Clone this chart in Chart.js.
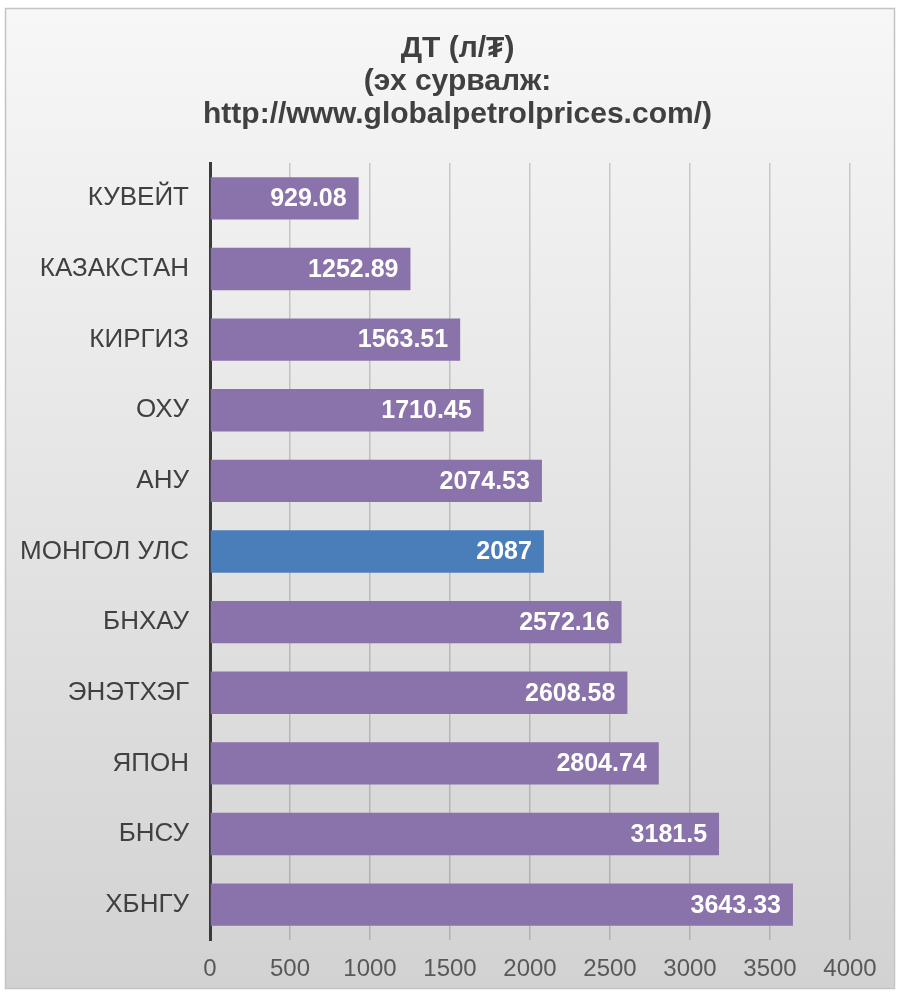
<!DOCTYPE html>
<html>
<head>
<meta charset="utf-8">
<script src="https://cdn.jsdelivr.net/npm/chart.js@4"></script>
<style>
  body { margin: 0; background: #fff; }
  #wrap { width: 899px; height: 992px; position: relative; }
</style>
</head>
<body>
<div id="wrap"><canvas id="myChart"></canvas></div>
<script>
const countries = ["КУВЕЙТ", "КАЗАКСТАН", "КИРГИЗ", "ОХУ", "АНУ", "МОНГОЛ УЛС",
    "БНХАУ", "ЭНЭТХЭГ", "ЯПОН", "БНСУ", "ХБНГУ"];
const prices = [929.08, 1252.89, 1563.51, 1710.45, 2074.53, 2087,
    2572.16, 2608.58, 2804.74, 3181.5, 3643.33];
const titleLines = ["ДТ (л/₮)", "(эх сурвалж:", "http://www.globalpetrolprices.com/)"];
const highlight = "МОНГОЛ УЛС";

const purple = '#8a72aa';
const blue = '#4a7ebb';

// gradient panel with thin border, like the office chart area
const panelBg = {
    id: 'panelBg',
    beforeDraw(chart) {
        const ctx = chart.ctx;
        const w = chart.width, h = chart.height;
        ctx.save();
        ctx.fillStyle = '#ffffff';
        ctx.fillRect(0, 0, w, h);
        const g = ctx.createLinearGradient(0, 8, 0, h - 3);
        g.addColorStop(0, '#f7f7f7');
        g.addColorStop(1, '#d2d2d2');
        ctx.fillStyle = g;
        ctx.fillRect(5, 8, w - 9, h - 11);
        ctx.strokeStyle = '#c4c4c4';
        ctx.lineWidth = 1.5;
        ctx.strokeRect(5.5, 8.5, w - 10, h - 12);
        ctx.restore();
    }
};

// white value labels inside the bar end
const valueLabels = {
    id: 'valueLabels',
    afterDatasetsDraw(chart) {
        const ctx = chart.ctx;
        const meta = chart.getDatasetMeta(0);
        ctx.save();
        ctx.font = 'bold 25px "Liberation Sans", Arial, sans-serif';
        ctx.fillStyle = '#ffffff';
        ctx.textAlign = 'right';
        ctx.textBaseline = 'middle';
        meta.data.forEach(function(bar, i) {
            ctx.fillText(String(prices[i]), bar.x - 12, bar.y + 1);
        });
        ctx.restore();
    }
};

const data = {
    labels: countries,
    datasets: [{
        data: prices,
        backgroundColor: countries.map(c => c === highlight ? blue : purple),
        barPercentage: 0.6,
        categoryPercentage: 1.0
    }]
};

const config = {
    type: 'bar',
    data: data,
    options: {
        indexAxis: 'y',
        responsive: true,
        maintainAspectRatio: false,
        animation: false,
        layout: {
            padding: { left: 16, right: 0, top: 0, bottom: 0 }
        },
        plugins: {
            legend: { display: false },
            tooltip: { enabled: false },
            title: {
                display: true,
                text: titleLines,
                color: '#404040',
                font: { family: '"Liberation Sans", Arial, sans-serif', size: 30, weight: 'bold', lineHeight: 1.1 },
                padding: { top: 32, bottom: 32 }
            }
        },
        scales: {
            x: {
                min: 0,
                max: 4000,
                afterFit(scale) { scale.height = 52; },
                ticks: {
                    stepSize: 500,
                    color: '#595959',
                    padding: 15,
                    callback: v => String(v),
                    font: { family: '"Liberation Sans Narrow", "Liberation Sans", Arial, sans-serif', size: 24 }
                },
                grid: {
                    color: 'rgba(0,0,0,0.17)',
                    lineWidth: 1.5,
                    drawTicks: false
                },
                border: { display: false }
            },
            y: {
                afterFit(scale) { scale.width = 194; },
                ticks: {
                    color: '#404040',
                    padding: 21,
                    font: { family: '"Liberation Sans", Arial, sans-serif', size: 26 }
                },
                grid: { display: false, drawTicks: false },
                border: { display: true, color: '#3a3a3a', width: 3 }
            },
            // empty right-hand spacer so the plot ends at 4000 like the original
            yRight: {
                type: 'linear',
                position: 'right',
                afterFit(scale) { scale.width = 49; },
                ticks: { display: false },
                grid: { display: false, drawTicks: false },
                border: { display: false }
            }
        }
    },
    plugins: [panelBg, valueLabels]
};

var myChart = new Chart(document.getElementById('myChart'), config);
</script>
</body>
</html>
